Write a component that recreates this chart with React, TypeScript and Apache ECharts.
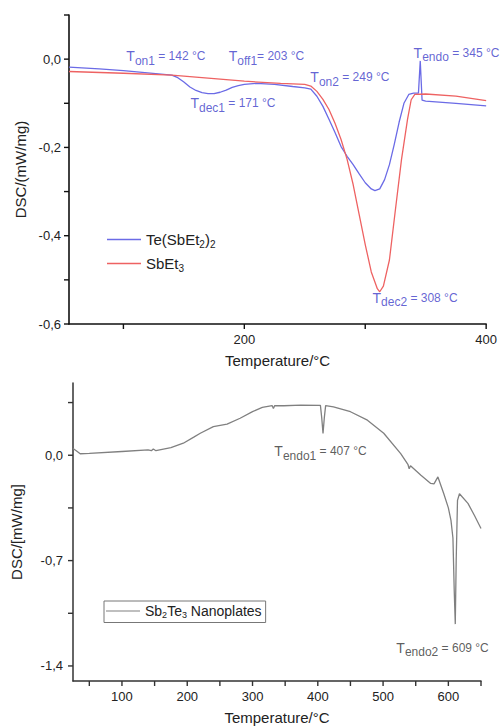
import React, { useEffect, useRef } from 'react';
import * as echarts from 'echarts';

// ---- Top panel data (Temperature °C, DSC mW/mg) ----
const TOP_BLUE_T = [55, 80, 100, 120, 140, 145, 150, 155, 160, 165, 170, 175, 180, 185, 190, 195, 200, 210, 225, 240, 250, 255, 260, 265, 270, 275, 280, 285, 290, 295, 300, 305, 308, 312, 316, 320, 324, 328, 332, 336, 340, 344, 345.5, 347, 350, 375, 400];
const TOP_BLUE_V = [-0.018, -0.022, -0.026, -0.031, -0.036, -0.042, -0.052, -0.063, -0.071, -0.076, -0.078, -0.078, -0.075, -0.070, -0.064, -0.060, -0.057, -0.055, -0.057, -0.062, -0.065, -0.068, -0.084, -0.107, -0.136, -0.166, -0.198, -0.220, -0.239, -0.260, -0.280, -0.294, -0.298, -0.294, -0.273, -0.239, -0.193, -0.143, -0.100, -0.080, -0.077, -0.077, -0.004, -0.093, -0.095, -0.100, -0.106];

const TOP_RED_T = [55, 100, 140, 170, 200, 230, 250, 255, 260, 265, 270, 275, 280, 285, 290, 295, 300, 305, 310, 312, 315, 320, 325, 330, 335, 338, 341, 350, 375, 400];
const TOP_RED_V = [-0.028, -0.032, -0.036, -0.043, -0.050, -0.055, -0.057, -0.061, -0.073, -0.091, -0.114, -0.145, -0.182, -0.227, -0.284, -0.352, -0.420, -0.482, -0.520, -0.527, -0.514, -0.455, -0.340, -0.227, -0.136, -0.092, -0.080, -0.079, -0.084, -0.094];

const TOP_NAMES = ['Te(SbEt2)2', 'SbEt3'];
const TOP_X_TICKS = [100, 200, 300, 400];
const TOP_X_LABELS = [200, 400];
const TOP_Y_TICKS = [-0.6, -0.5, -0.4, -0.3, -0.2, -0.1, 0, 0.1];
const TOP_Y_LABELS = [-0.6, -0.4, -0.2, 0];

// annotations: [T, value, subscript, rest]
const TOP_NOTES: [number, number, string, string][] = [
  [102, 0.007, 'on1', ' = 142 °C'],
  [186.7, 0.007, 'off1', '= 203 °C'],
  [155, -0.1, 'dec1', ' = 171 °C'],
  [254.2, -0.041, 'on2', ' = 249 °C'],
  [339.6, 0.015, 'endo', ' = 345 °C'],
  [305.6, -0.541, 'dec2', ' = 308 °C'],
];

// ---- Bottom panel data ----
const BOT_T = [25, 30, 36, 50, 100, 140, 145, 148, 152, 175, 194, 210, 220, 240, 261, 281, 300, 315, 330, 332, 334, 348, 374, 404, 406, 408, 410, 412, 424, 450, 476, 501, 527, 538, 540, 542, 558, 573, 578, 584, 593, 600, 604, 607, 609, 610.6, 612, 614, 617, 630, 640, 650];
const BOT_V = [0.045, 0.03, 0.01, 0.012, 0.025, 0.035, 0.03, 0.042, 0.03, 0.05, 0.08, 0.12, 0.146, 0.19, 0.207, 0.246, 0.29, 0.318, 0.33, 0.31, 0.33, 0.329, 0.333, 0.331, 0.25, 0.144, 0.25, 0.33, 0.322, 0.289, 0.233, 0.146, 0.011, -0.06, -0.09, -0.07, -0.133, -0.187, -0.19, -0.144, -0.256, -0.35, -0.433, -0.55, -0.9, -1.122, -0.7, -0.3, -0.256, -0.32, -0.4, -0.487];
const BOT_NAME = 'Sb2Te3 Nanoplates';
const BOT_X_TICKS = [50, 100, 150, 200, 250, 300, 350, 400, 450, 500, 550, 600, 650];
const BOT_X_LABELS = [100, 200, 300, 400, 500, 600];
const BOT_Y_TICKS = [-1.4, -1.05, -0.7, -0.35, 0, 0.35];
const BOT_Y_LABELS = [-1.4, -0.7, 0];
const BOT_NOTES: [number, number, string, string][] = [
  [332.7, 0.027, 'endo1', ' = 407 °C'],
  [519.6, -1.28, 'endo2', ' = 609 °C'],
];

const TOP_X_RANGE = [55, 400];
const TOP_Y_RANGE = [-0.6, 0.1];
const BOT_X_RANGE = [25, 650];
const BOT_Y_RANGE = [-1.5, 0.48];

const FONT = 'Arial, "Liberation Sans", sans-serif';

const zip = (a: number[], b: number[]) => a.map((t, i) => [t, b[i]]);
const fmt = (v: number) => (Math.abs(v) < 1e-9 ? '0,0' : v.toFixed(1).replace('.', ','));

const legendRich: Record<string, string> = {
  'Te(SbEt2)2': '{m|Te(SbEt}{s|2}{m|)}{s|2}',
  SbEt3: '{m|SbEt}{s|3}',
  'Sb2Te3 Nanoplates': '{m|Sb}{s|2}{m|Te}{s|3}{m| Nanoplates}',
};

function noteSeries(notes: [number, number, string, string][], xi: number, yi: number, color: string) {
  return {
    type: 'scatter',
    xAxisIndex: xi,
    yAxisIndex: yi,
    symbolSize: 1,
    silent: true,
    itemStyle: { color: 'rgba(0,0,0,0)' },
    data: notes.map((n) => ({ value: [n[0], n[1]], sub: n[2], rest: n[3] })),
    label: {
      show: true,
      position: 'right',
      distance: 0,
      formatter: (p: any) => `{t|T}{s|${p.data.sub}}{m|${p.data.rest}}`,
      rich: {
        t: { fontSize: 14, color, fontFamily: FONT },
        m: { fontSize: 12, color, fontFamily: FONT },
        s: { fontSize: 12, color, fontFamily: FONT, padding: [9, 0, 0, 0] },
      },
    },
  };
}

export default function App() {
  const ref = useRef<HTMLDivElement>(null);
  useEffect(() => {
    const chart = echarts.init(ref.current!, null, { renderer: 'svg' });
    const axisLineTop = { show: true, onZero: false, lineStyle: { color: '#111', width: 1.6 } };
    const axisLineBot = { show: true, onZero: false, lineStyle: { color: '#333', width: 1.5 } };
    const labelStyle = { fontSize: 13, color: '#222', fontFamily: FONT };
    const nameStyle = { fontSize: 15, color: '#222', fontFamily: FONT };
    chart.setOption({
      animation: false,
      backgroundColor: '#fff',
      grid: [
        { left: 69, right: 13, top: 15, bottom: 403 },
        { left: 73, right: 19, top: 383, bottom: 46 },
      ],
      xAxis: [
        {
          type: 'value', gridIndex: 0, min: TOP_X_RANGE[0], max: TOP_X_RANGE[1],
          axisLine: axisLineTop,
          axisTick: { show: false },
          axisLabel: { customValues: TOP_X_LABELS, margin: 9, ...labelStyle },
          splitLine: { show: false },
          name: 'Temperature/°C', nameLocation: 'middle', nameGap: 29, nameTextStyle: nameStyle,
        },
        {
          type: 'value', gridIndex: 1, min: BOT_X_RANGE[0], max: BOT_X_RANGE[1],
          axisLine: axisLineBot,
          axisTick: { show: false },
          axisLabel: { customValues: BOT_X_LABELS, margin: 9, ...labelStyle },
          splitLine: { show: false },
          name: 'Temperature/°C', nameLocation: 'middle', nameGap: 29, nameTextStyle: nameStyle,
        },
      ],
      yAxis: [
        {
          type: 'value', gridIndex: 0, min: TOP_Y_RANGE[0], max: TOP_Y_RANGE[1],
          axisLine: axisLineTop,
          axisTick: { show: false },
          axisLabel: { customValues: TOP_Y_LABELS, margin: 8, formatter: fmt, ...labelStyle },
          splitLine: { show: false },
          name: 'DSC/(mW/mg)', nameLocation: 'middle', nameGap: 35, nameTextStyle: nameStyle,
        },
        {
          type: 'value', gridIndex: 1, min: BOT_Y_RANGE[0], max: BOT_Y_RANGE[1],
          axisLine: axisLineBot,
          axisTick: { show: false },
          axisLabel: { customValues: BOT_Y_LABELS, margin: 10, formatter: fmt, ...labelStyle },
          splitLine: { show: false },
          name: 'DSC/[mW/mg]', nameLocation: 'middle', nameGap: 49, nameTextStyle: nameStyle,
        },
      ],
      legend: [
        {
          data: TOP_NAMES,
          orient: 'vertical',
          left: 105,
          top: 230,
          icon: 'rect',
          itemWidth: 34,
          itemHeight: 1.4,
          itemGap: 7,
          padding: 2,
          selectedMode: false,
          formatter: (n: string) => legendRich[n],
          textStyle: {
            rich: {
              m: { fontSize: 15, color: '#222', fontFamily: FONT },
              s: { fontSize: 10, color: '#222', fontFamily: FONT, padding: [9, 0, 0, 0] },
            },
          },
        },
        {
          data: [BOT_NAME],
          left: 104,
          top: 601,
          icon: 'rect',
          itemWidth: 34,
          itemHeight: 1.2,
          padding: [3, 4, 3, 2],
          borderColor: '#777',
          borderWidth: 1,
          selectedMode: false,
          formatter: (n: string) => legendRich[n],
          textStyle: {
            rich: {
              m: { fontSize: 14, color: '#222', fontFamily: FONT },
              s: { fontSize: 9, color: '#222', fontFamily: FONT, padding: [8, 0, 0, 0] },
            },
          },
        },
      ],
      series: [
        {
          name: TOP_NAMES[0], type: 'line', xAxisIndex: 0, yAxisIndex: 0,
          data: zip(TOP_BLUE_T, TOP_BLUE_V), symbol: 'none', smooth: false,
          lineStyle: { color: '#6b6be6', width: 1.3 }, itemStyle: { color: '#6b6be6' },
        },
        {
          name: TOP_NAMES[1], type: 'line', xAxisIndex: 0, yAxisIndex: 0,
          data: zip(TOP_RED_T, TOP_RED_V), symbol: 'none', smooth: false,
          lineStyle: { color: '#ee6262', width: 1.3 }, itemStyle: { color: '#ee6262' },
        },
        {
          name: BOT_NAME, type: 'line', xAxisIndex: 1, yAxisIndex: 1,
          data: zip(BOT_T, BOT_V), symbol: 'none', smooth: false,
          lineStyle: { color: '#808080', width: 1.3 }, itemStyle: { color: '#808080' },
        },
        noteSeries(TOP_NOTES, 0, 0, '#3c3cc8'),
        noteSeries(BOT_NOTES, 1, 1, '#333'),
      ],
    });

    // axis ticks as small filled rects, placed through each axis' scale
    const ticks: any[] = [];
    const L = 5;
    const W = 1.4;
    const px = (finder: any, v: number) => {
      try {
        const r: any = chart.convertToPixel(finder, v);
        return typeof r === 'number' ? r : Array.isArray(r) ? r[0] : NaN;
      } catch (e) {
        return NaN;
      }
    };
    const addX = (vals: number[], gi: number, base: number, color: string) => {
      const y = px({ yAxisIndex: gi }, base);
      vals.forEach((v) => {
        const x = px({ xAxisIndex: gi }, v);
        if (!isFinite(x) || !isFinite(y)) return;
        ticks.push({ type: 'rect', silent: true, z: 100, shape: { x: x - W / 2, y, width: W, height: L }, style: { fill: color } });
      });
    };
    const addY = (vals: number[], gi: number, base: number, color: string) => {
      const x = px({ xAxisIndex: gi }, base);
      vals.forEach((v) => {
        const y = px({ yAxisIndex: gi }, v);
        if (!isFinite(x) || !isFinite(y)) return;
        ticks.push({ type: 'rect', silent: true, z: 100, shape: { x: x - L, y: y - W / 2, width: L, height: W }, style: { fill: color } });
      });
    };
    addX(TOP_X_TICKS, 0, TOP_Y_RANGE[0], '#111');
    addY(TOP_Y_TICKS, 0, TOP_X_RANGE[0], '#111');
    addX(BOT_X_TICKS, 1, BOT_Y_RANGE[0], '#333');
    addY(BOT_Y_TICKS, 1, BOT_X_RANGE[0], '#333');
    chart.setOption({ graphic: ticks });

    return () => chart.dispose();
  }, []);
  return <div ref={ref} style={{ position: 'fixed', left: 0, top: 0, width: 500, height: 727 }} />;
}
